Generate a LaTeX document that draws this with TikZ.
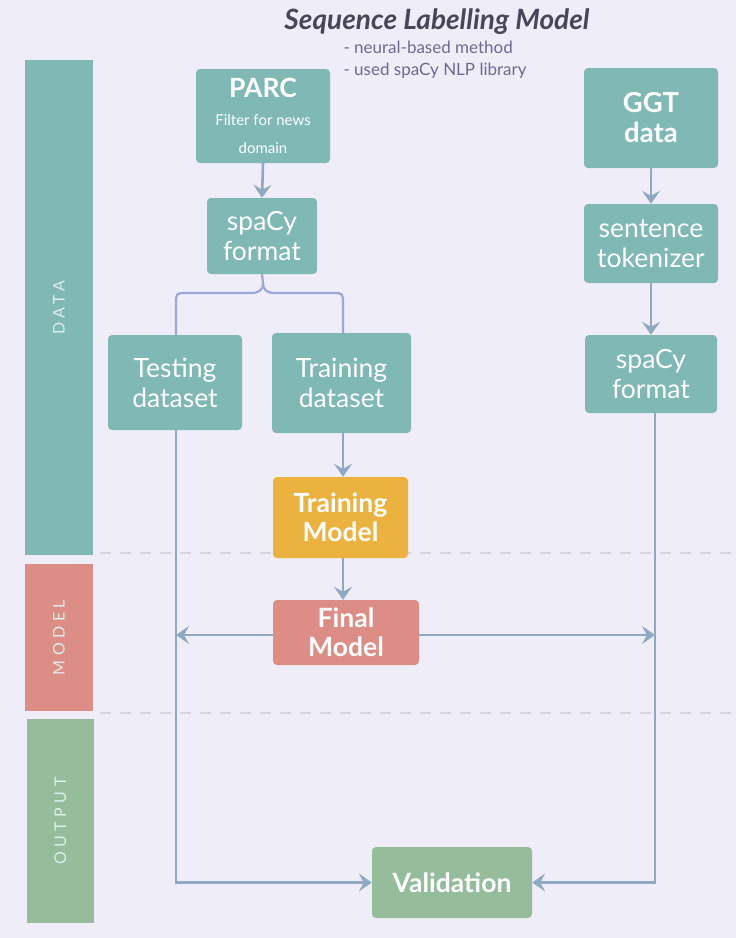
\documentclass[tikz,border=0pt]{standalone}
\usepackage{fontspec}
\setmainfont{Lato}
\usetikzlibrary{arrows.meta}
\definecolor{bgc}{HTML}{EFEEF8}
\definecolor{tealc}{HTML}{7FB8B5}
\definecolor{redc}{HTML}{DC8D85}
\definecolor{greenc}{HTML}{95BC9B}
\definecolor{yellowc}{HTML}{EBB240}
\definecolor{linec}{HTML}{8FAAC0}
\definecolor{bracec}{HTML}{9CA6DA}
\definecolor{titlec}{HTML}{4A4559}
\definecolor{subc}{HTML}{6E6895}
\definecolor{dashc}{HTML}{D6D6DE}
\definecolor{sidetxt}{HTML}{DDEEEC}
\tikzset{
  box/.style={rectangle, rounded corners=4pt, draw=none, text=white, align=center,
    inner sep=0pt, font=\fontsize{26.5}{30}\selectfont},
  tealbox/.style={box, fill=tealc},
  bar/.style={rectangle, draw=none, inner sep=0pt},
  sidelabel/.style={rotate=90, text=sidetxt, font=\fontsize{16}{18}\selectfont\addfontfeatures{LetterSpace=28}},
  conn/.style={draw=linec, line width=2.6pt, -{Stealth[length=13pt,width=18pt,inset=5pt]}},
  bracel/.style={draw=bracec, line width=2.2pt},
  sep/.style={draw=dashc, line width=1.6pt, dash pattern=on 11pt off 9pt}
}
\begin{document}
\begin{tikzpicture}[x=1pt,y=-1pt]
\fill[bgc] (0,0) rectangle (736,938);
\useasboundingbox (0,0) rectangle (736,938);

% separators
\draw[sep] (100,553) -- (736,553);
\draw[sep] (100,713) -- (736,713);

% side bars
\node[bar, fill=tealc, minimum width=68, minimum height=495] (databar) at (59,307.5) {};
\node[bar, fill=redc, minimum width=68, minimum height=147] (modelbar) at (59,637.5) {};
\node[bar, fill=greenc, minimum width=67, minimum height=204] (outbar) at (60.5,821) {};
\node[sidelabel] (datal) at (databar.center) {DATA};
\node[sidelabel] (modell) at (modelbar.center) {MODEL};
\node[sidelabel] (outl) at (outbar.center) {OUTPUT};

% title
\node[text=titlec, font=\fontsize{28}{30}\selectfont\bfseries\itshape] (title) at (437,22) {Sequence Labelling Model};
\node[text=subc, font=\fontsize{17}{22}\selectfont, align=left, anchor=north west] (sub) at (340,37) {- neural-based method\\- used spaCy NLP library};

% nodes
\node[tealbox, minimum width=134, minimum height=94, font=\fontsize{15}{28}\selectfont] (parc) at (263,116)
  {{\bfseries\fontsize{26.5}{28}\selectfont PARC}\\Filter for news\\domain};
\node[tealbox, minimum width=110, minimum height=76] (spacyl) at (262,236) {spaCy\\format};
\node[tealbox, minimum width=134, minimum height=95] (testing) at (175,382.5) {Testing\\dataset};
\node[tealbox, minimum width=139, minimum height=100] (training) at (341.5,383) {Training\\dataset};
\node[box, fill=yellowc, minimum width=135, minimum height=81, font=\fontsize{26.5}{29}\selectfont\bfseries] (trainmodel) at (340.5,517.5) {Training\\Model};
\node[box, fill=redc, minimum width=146, minimum height=65, font=\fontsize{26.5}{29}\selectfont\bfseries] (final) at (346,632.5) {Final\\Model};
\node[box, fill=greenc, minimum width=160, minimum height=71, font=\fontsize{26.5}{30}\selectfont\bfseries] (valid) at (452,882.5) {Validation};
\node[tealbox, minimum width=134, minimum height=100, font=\fontsize{27.5}{30}\selectfont\bfseries] (ggt) at (651,118) {GGT\\data};
\node[tealbox, minimum width=134, minimum height=79] (tok) at (651,243.5) {sentence\\tokenizer};
\node[tealbox, minimum width=132, minimum height=78] (spacyr) at (651,374) {spaCy\\format};

% coordinates
\coordinate (tip) at (263,283);
\coordinate (lx) at (176,635);
\coordinate (rx) at (655,635);

% brace
\draw[bracel] (testing.north -| 176,0) -- (176,304) .. controls (176,293) .. (187,293) -- (251,293)
  .. controls (259,293) and (263,290) .. (tip) -- (spacyl.south);
\draw[bracel] (training.north -| 343,0) -- (343,304) .. controls (343,293) .. (332,293) -- (275,293)
  .. controls (267,293) and (263,290) .. (tip);

% connectors
\draw[conn] (parc.south) -- (spacyl.north);
\draw[conn] (ggt.south) -- (tok.north);
\draw[conn] (tok.south) -- (spacyr.north);
\draw[conn] (training.south -| 343,0) -- (trainmodel.north -| 343,0);
\draw[conn] (trainmodel.south -| 343,0) -- (final.north -| 343,0);
\draw[conn] (final.west |- lx) -- (lx);
\draw[conn] (final.east |- rx) -- (rx);
\draw[conn] (testing.south -| lx) |- (valid.west);
\draw[conn] (spacyr.south -| rx) |- (valid.east);
\end{tikzpicture}
\end{document}
